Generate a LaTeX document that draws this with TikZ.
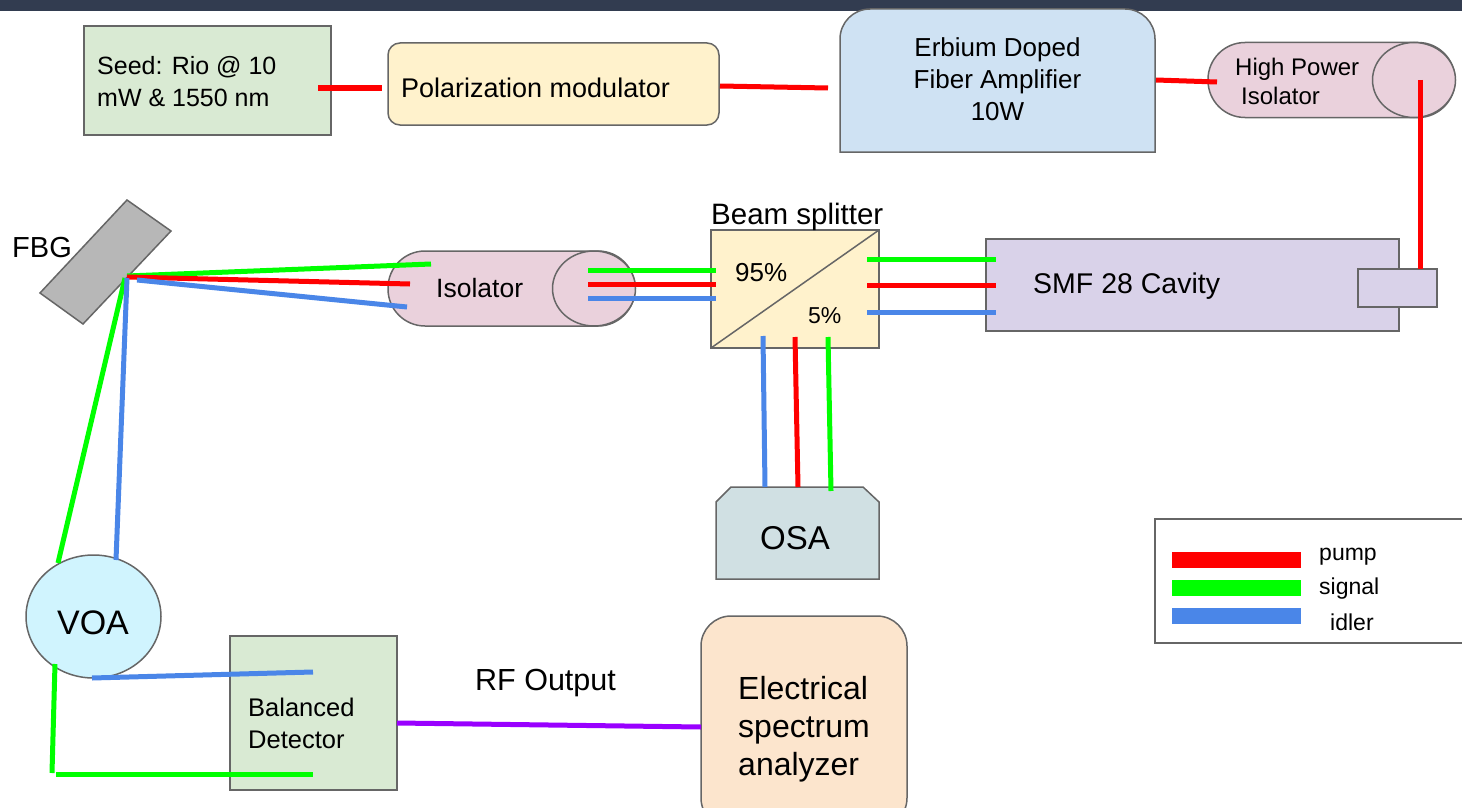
\documentclass[tikz,border=0pt]{standalone}
\usepackage{fontspec}
\setmainfont{Liberation Sans}
\usepackage{xcolor}
\usetikzlibrary{shapes.geometric,calc}
\definecolor{edgegray}{HTML}{666666}
\definecolor{pumpred}{HTML}{FF0000}
\definecolor{signalgreen}{HTML}{00FF00}
\definecolor{idlerblue}{HTML}{4A86E8}
\definecolor{rfviolet}{HTML}{9900FF}
\definecolor{topbar}{HTML}{323C50}
\definecolor{seedfill}{HTML}{D9EAD3}
\definecolor{creamfill}{HTML}{FFF2CC}
\definecolor{ampfill}{HTML}{CFE2F3}
\definecolor{isofill}{HTML}{EAD1DC}
\definecolor{fbgfill}{HTML}{B7B7B7}
\definecolor{smffill}{HTML}{D9D2E9}
\definecolor{osafill}{HTML}{D0E0E3}
\definecolor{voafill}{HTML}{D0F4FE}
\definecolor{esafill}{HTML}{FCE5CD}
\tikzset{
  box/.style={draw=edgegray,line width=1.5pt,inner sep=0pt,outer sep=0pt},
  lbl/.style={inner sep=0pt,align=left,anchor=west,font=\fontsize{#1}{#1}\selectfont},
  lblc/.style={inner sep=0pt,align=center,font=\fontsize{#1}{#1}\selectfont},
  pump/.style={pumpred,line width=5pt},
  signal/.style={signalgreen,line width=5pt},
  idler/.style={idlerblue,line width=5pt},
}
\begin{document}
\begin{tikzpicture}[x=1pt,y=-1pt]
\useasboundingbox (0,0) rectangle (1462,808);
\fill[topbar] (0,0) rectangle (1462,11);

% top row
\node[box,fill=seedfill,minimum width=247pt,minimum height=109pt] (seed) at (207.5,80.5) {};
\node[box,fill=creamfill,rounded corners=12pt,minimum width=331pt,minimum height=82pt] (polmod) at (553.5,84) {};
\draw[box,fill=ampfill] (840,152) [rounded corners=30pt] -- (840,9) -- (1155,9) [sharp corners] -- (1155,152) -- cycle;
\node[inner sep=0pt] (edfa) at (997.5,79) {};
\node[box,fill=isofill,rounded corners=37pt,minimum width=247pt,minimum height=75pt] (hpiso) at (1331.5,80) {};
\node[box,ellipse,fill=isofill,minimum width=83pt,minimum height=75pt] (hpisoend) at (1414,80) {};

% middle row
\draw[box,fill=fbgfill] (127,200) -- (171,231) -- (83,324) -- (40,293) -- cycle;
\node[box,fill=isofill,rounded corners=37pt,minimum width=247pt,minimum height=75pt] (iso) at (511.5,288.5) {};
\node[box,ellipse,fill=isofill,minimum width=83pt,minimum height=75pt] (isoend) at (594,288.5) {};
\node[box,fill=creamfill,minimum width=168pt,minimum height=118pt] (bs) at (795,289) {};
\draw[edgegray,line width=1.5pt] (bs.south west) -- (bs.north east);
\node[box,fill=smffill,minimum width=413pt,minimum height=92pt] (smf) at (1192.5,285) {};
\node[box,fill=smffill,minimum width=79pt,minimum height=38pt] (coupler) at (1397.5,288) {};

% lower part
\draw[box,fill=osafill] (716,579) -- (716,502) -- (731,487) -- (863,487) -- (879,502) -- (879,579) -- cycle;
\node[box,ellipse,fill=voafill,minimum width=135pt,minimum height=123pt] (voa) at (93.5,616.5) {};
\node[box,fill=seedfill,minimum width=167pt,minimum height=154pt] (bd) at (313.5,713) {};
\node[box,fill=esafill,rounded corners=30pt,minimum width=206pt,minimum height=212pt] (esa) at (804,722) {};
\node[box,minimum width=330pt,minimum height=124pt] (legend) at (1320,581) {};

% free ends of the beams
\coordinate (s1) at (318,88);
\coordinate (s2) at (382,88);
\coordinate (p1) at (720,86);
\coordinate (p2) at (828,88);
\coordinate (e1) at (1156,80);
\coordinate (e2) at (1217,82);
\coordinate (h1) at (1420,80);
\coordinate (h2) at (1420,269);
\draw[pump] (s1) -- (s2);
\draw[pump] (p1) -- (p2);
\draw[pump] (e1) -- (e2);
\draw[pump] (h1) -- (h2);

% FBG to isolator
\coordinate (fr) at (127,277);
\coordinate (fg) at (127,276);
\coordinate (fb) at (137,280);
\coordinate (ig) at (431,264);
\coordinate (ir) at (410,284);
\coordinate (ib) at (407,307);
\draw[signal] (fg) -- (ig);
\draw[pump] (fr) -- (ir);
\draw[idler] (fb) -- (ib);

% FBG to VOA
\coordinate (dg) at (125,278);
\coordinate (db) at (127,278);
\coordinate (vg) at (58,563);
\coordinate (vb) at (116,560);
\draw[signal] (dg) -- (vg);
\draw[idler] (db) -- (vb);

% isolator to splitter, splitter to cavity
\foreach \nm/\sty/\ya/\yb in {g/signal/270/259,r/pump/284/285,b/idler/298/312}{
  \coordinate (a\nm) at (588,\ya);
  \coordinate (c\nm) at (716,\ya);
  \coordinate (d\nm) at (867,\yb);
  \coordinate (f\nm) at (996,\yb);
  \draw[\sty] (a\nm) -- (c\nm);
  \draw[\sty] (d\nm) -- (f\nm);
}

% splitter to OSA
\coordinate (ob1) at (763,336);
\coordinate (ob2) at (765,487);
\coordinate (or1) at (795,337);
\coordinate (or2) at (798,487);
\coordinate (og1) at (828,337);
\coordinate (og2) at (831,491);
\draw[idler] (ob1) -- (ob2);
\draw[pump] (or1) -- (or2);
\draw[signal] (og1) -- (og2);

% VOA to detector
\coordinate (v1) at (92,678);
\coordinate (v2) at (313,672);
\coordinate (v3) at (55,664);
\coordinate (v4) at (52,773);
\coordinate (v5) at (56,774);
\coordinate (v6) at (313,774);
\draw[idler] (v1) -- (v2);
\draw[signal] (v3) -- (v4);
\draw[signal] (v5) -- (v6);
\coordinate (r1) at (397,723);
\coordinate (r2) at (701,727);
\draw[rfviolet,line width=5pt] (r1) -- (r2);

% legend
\foreach \nm/\sty/\y in {p/pump/560,s/signal/588,i/idler/616}{
  \coordinate (l\nm1) at (1172,\y);
  \coordinate (l\nm2) at (1301,\y);
  \draw[\sty,line width=16pt] (l\nm1) -- (l\nm2);
}

% labels
\node[lbl=25] (seedtxt) at (97,82) {Seed: Rio @ 10\\[7pt]mW \& 1550 nm};
\node[lbl=27] (polmodtxt) at (401,88) {Polarization modulator};
\node[lblc=26] (edfatxt) at (edfa) {Erbium Doped\\[6pt]Fiber Amplifier\\[6pt]10W};
\node[lbl=24] (hptxt) at (1235,81) {High Power\\[5pt]\hspace*{6pt}Isolator};
\node[lbl=29] (fbgtxt) at (12,248) {FBG};
\node[lbl=26.5] (isotxt) at (436,288) {Isolator};
\node[lbl=29.5] (bstxt) at (711,217) {Beam splitter};
\node[lbl=26] (p95) at (735,273) {95\%};
\node[lbl=23] (p5) at (808,316) {5\%};
\node[lbl=28.5] (smftxt) at (1033,286) {SMF 28 Cavity};
\node[lblc=33] (osatxt) at (795,538) {OSA};
\node[lblc=34] (voatxt) at (93,623) {VOA};
\node[lbl=25.5] (bdtxt) at (248,723) {Balanced\\[6.5pt]Detector};
\node[lbl=30.5] (rftxt) at (475,683) {RF Output};
\node[lbl=32] (esatxt) at (738,729) {Electrical\\[6pt]spectrum\\[6pt]analyzer};
\node[lbl=23] (pumptxt) at (1319,557) {pump};
\node[lbl=23] (signaltxt) at (1319,589) {signal};
\node[lbl=23] (idlertxt) at (1330,622) {idler};
\end{tikzpicture}
\end{document}
